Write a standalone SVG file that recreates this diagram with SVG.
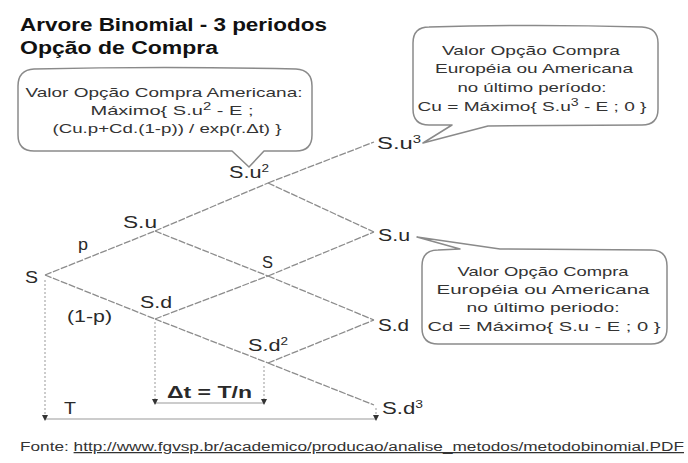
<svg xmlns="http://www.w3.org/2000/svg" width="688" height="463" viewBox="0 0 688 463">
<style>
text{font-family:"Liberation Sans",Arial,sans-serif;fill:#2a2a2a}
.title{font-size:18px;font-weight:bold;fill:#111}
.lbl{font-size:16px}
.sup{font-size:10px}
.ct{font-size:13.5px;text-anchor:middle;fill:#333}
.edge{stroke:#8c8c8c;stroke-width:1.3;fill:none;stroke-dasharray:7 1.5}
.dot{stroke:#999;stroke-width:1;fill:none;stroke-dasharray:2 2}
.brk{stroke:#999;stroke-width:1.2;fill:none}
.bub{fill:#fff;stroke:#8a8a8a;stroke-width:1.5;stroke-linejoin:round}
.foot{font-size:12.5px;fill:#333}
</style>
<rect width="688" height="463" fill="#fff"/>
<g id="title">
<text class="title" x="20" y="31" textLength="307" lengthAdjust="spacingAndGlyphs">Arvore Binomial - 3 periodos</text>
<text class="title" x="20" y="54" textLength="198" lengthAdjust="spacingAndGlyphs">Opção de Compra</text>
</g>
<g id="connectors">
<line class="edge" x1="45" y1="275" x2="155" y2="231"/>
<line class="edge" x1="45" y1="275" x2="155" y2="319"/>
<line class="edge" x1="155" y1="231" x2="268" y2="183"/>
<line class="edge" x1="155" y1="231" x2="268" y2="276"/>
<line class="edge" x1="155" y1="319" x2="268" y2="276"/>
<line class="edge" x1="155" y1="319" x2="268" y2="363"/>
<line class="edge" x1="268" y1="183" x2="374" y2="142"/>
<line class="edge" x1="268" y1="183" x2="374" y2="232"/>
<line class="edge" x1="268" y1="276" x2="374" y2="232"/>
<line class="edge" x1="268" y1="276" x2="374" y2="320"/>
<line class="edge" x1="268" y1="363" x2="374" y2="320"/>
<line class="edge" x1="268" y1="363" x2="374" y2="405"/>
<line class="dot" x1="45" y1="280" x2="45" y2="416"/>
<line class="dot" x1="155" y1="322" x2="155" y2="400"/>
<line class="dot" x1="264" y1="366" x2="264" y2="400"/>
<line class="dot" x1="376" y1="408" x2="376" y2="416"/>
<line class="brk" x1="45" y1="419" x2="376" y2="419"/>
<line class="brk" x1="155" y1="403" x2="264" y2="403"/>
<path d="M42,415 L48,415 L45,421 Z M373,415 L379,415 L376,421 Z M152,399 L158,399 L155,405 Z M261,399 L267,399 L264,405 Z" fill="#333"/>
</g>
<g id="node-S"><text class="lbl" x="25" y="283" textLength="13" lengthAdjust="spacingAndGlyphs">S</text></g>
<g id="node-Su"><text class="lbl" x="123" y="228" textLength="34" lengthAdjust="spacingAndGlyphs">S.u</text></g>
<g id="node-Sd"><text class="lbl" x="140" y="308" textLength="32" lengthAdjust="spacingAndGlyphs">S.d</text></g>
<g id="node-Su2"><text class="lbl" x="229" y="178" textLength="40" lengthAdjust="spacingAndGlyphs">S.u<tspan class="sup" dy="-6">2</tspan></text></g>
<g id="node-S2"><text class="lbl" x="262" y="268" textLength="11" lengthAdjust="spacingAndGlyphs">S</text></g>
<g id="node-Sd2"><text class="lbl" x="248" y="351" textLength="40" lengthAdjust="spacingAndGlyphs">S.d<tspan class="sup" dy="-6">2</tspan></text></g>
<g id="node-Su3"><text class="lbl" x="377" y="149" textLength="44" lengthAdjust="spacingAndGlyphs">S.u<tspan class="sup" dy="-6">3</tspan></text></g>
<g id="node-Su-right"><text class="lbl" x="378" y="241" textLength="32" lengthAdjust="spacingAndGlyphs">S.u</text></g>
<g id="node-Sd-right"><text class="lbl" x="378" y="331" textLength="31" lengthAdjust="spacingAndGlyphs">S.d</text></g>
<g id="node-Sd3"><text class="lbl" x="382" y="414" textLength="41" lengthAdjust="spacingAndGlyphs">S.d<tspan class="sup" dy="-6">3</tspan></text></g>
<g id="label-p"><text class="lbl" x="78" y="250" textLength="10" lengthAdjust="spacingAndGlyphs">p</text></g>
<g id="label-1-p"><text class="lbl" x="67" y="322" textLength="45" lengthAdjust="spacingAndGlyphs">(1-p)</text></g>
<g id="label-T"><text class="lbl" x="64" y="414" textLength="12" lengthAdjust="spacingAndGlyphs">T</text></g>
<g id="label-dt"><text class="lbl" x="167" y="398" textLength="85" lengthAdjust="spacingAndGlyphs" font-weight="bold">Δt = T/n</text></g>
<g id="callout-american">
<path class="bub" d="M34,69 Q165,66 296,69 Q312,70 312,86 L312,135 Q312,151 296,151 L264,151 L249,167 L232,151 L34,151 Q18,151 18,135 L18,86 Q18,70 34,69 Z"/>
<text class="ct" x="164" y="97" textLength="277" lengthAdjust="spacingAndGlyphs">Valor Opção Compra Americana:</text>
<text class="ct" x="172" y="115" textLength="163" lengthAdjust="spacingAndGlyphs">Máximo{ S.u<tspan class="sup" dy="-5">2</tspan><tspan dy="5"> - E ;</tspan></text>
<text class="ct" x="167" y="133" textLength="229" lengthAdjust="spacingAndGlyphs">(Cu.p+Cd.(1-p)) / exp(r.Δt) }</text>
</g>
<g id="callout-cu">
<path class="bub" d="M429,27 Q535,24 642,27 Q658,28 658,43 L658,109 Q658,125 642,125 L488,126 L423,143 L452,125 L429,125 Q413,125 413,109 L413,43 Q413,27 429,27 Z"/>
<text class="ct" x="531" y="55" textLength="178" lengthAdjust="spacingAndGlyphs">Valor Opção Compra</text>
<text class="ct" x="534" y="73" textLength="198" lengthAdjust="spacingAndGlyphs">Européia ou Americana</text>
<text class="ct" x="532" y="92" textLength="149" lengthAdjust="spacingAndGlyphs">no último período:</text>
<text class="ct" x="532" y="111" textLength="229" lengthAdjust="spacingAndGlyphs">Cu = Máximo{ S.u<tspan class="sup" dy="-5">3</tspan><tspan dy="5"> - E ; 0 }</tspan></text>
</g>
<g id="callout-cd">
<path class="bub" d="M438,250 L460,249 L417,237 L500,249 L651,250 Q667,250 667,266 L667,328 Q667,344 651,344 L438,344 Q422,344 422,328 L422,266 Q422,250 438,250 Z"/>
<text class="ct" x="543" y="276" textLength="171" lengthAdjust="spacingAndGlyphs">Valor Opção Compra</text>
<text class="ct" x="543" y="294" textLength="213" lengthAdjust="spacingAndGlyphs">Européia ou Americana</text>
<text class="ct" x="543" y="312" textLength="153" lengthAdjust="spacingAndGlyphs">no último periodo:</text>
<text class="ct" x="544" y="331" textLength="233" lengthAdjust="spacingAndGlyphs">Cd = Máximo{ S.u - E ; 0 }</text>
</g>
<g id="footer">
<text class="foot" x="20" y="451" textLength="664" lengthAdjust="spacingAndGlyphs">Fonte: <tspan text-decoration="underline">http://www.fgvsp.br/academico/producao/analise_metodos/metodobinomial.PDF</tspan></text>
</g>
</svg>
